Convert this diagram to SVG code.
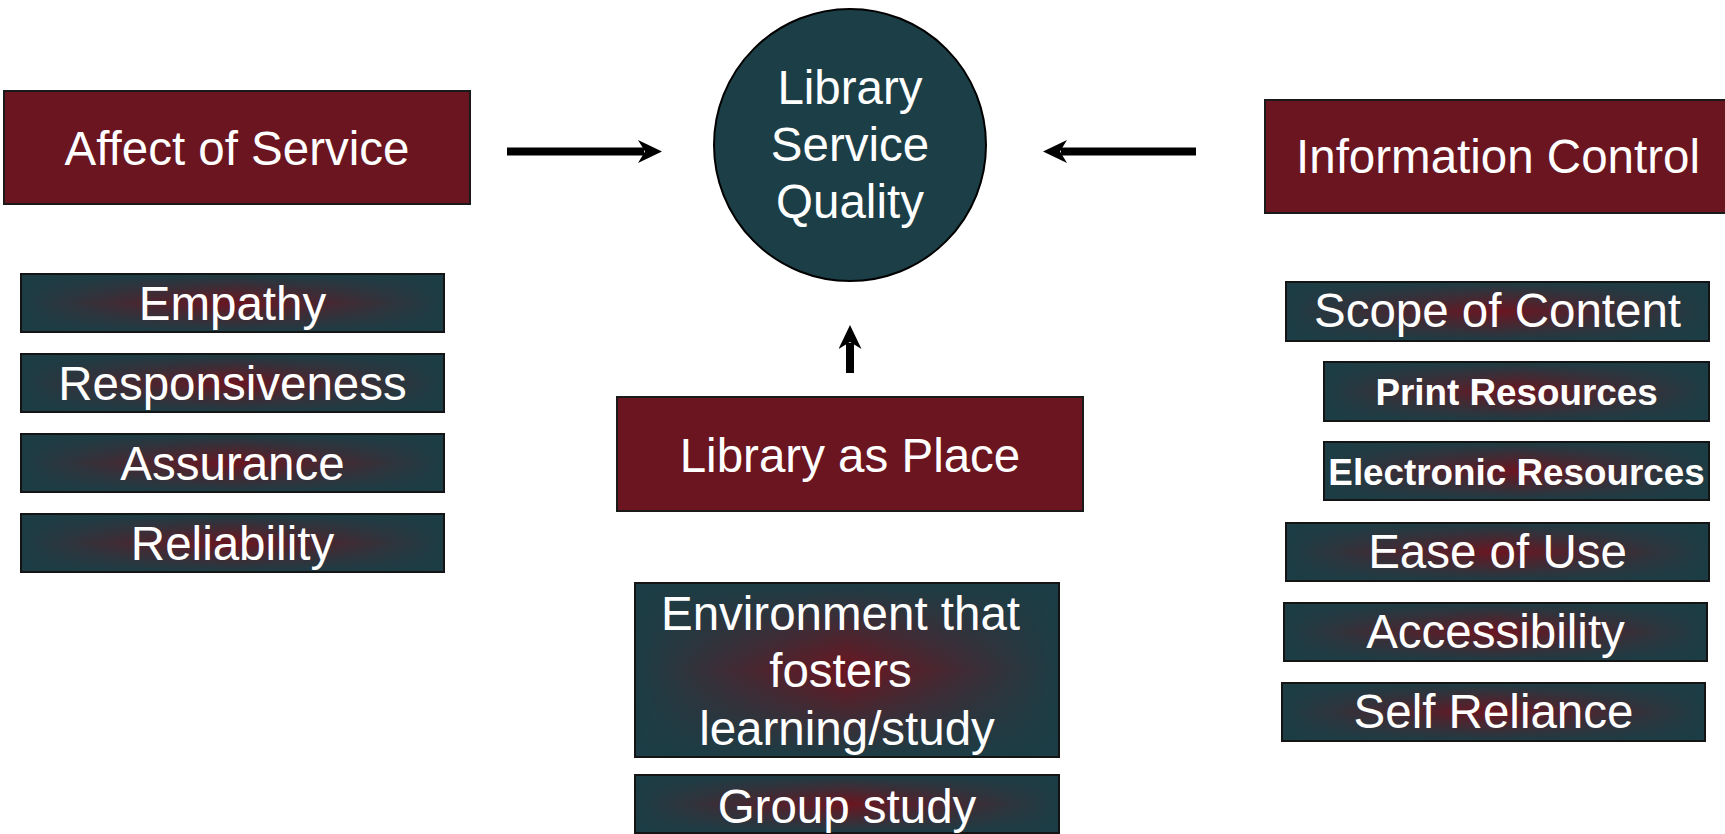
<svg xmlns="http://www.w3.org/2000/svg" width="1725" height="834" viewBox="0 0 1725 834">
  <defs>
    <style>
      .head { fill: #6b1520; stroke: #1a1a1a; stroke-width: 2; }
      .item { fill: url(#hfade); stroke: #141414; stroke-width: 2; }
      .shade { fill: url(#vfade); stroke: none; }
      .frame { fill: none; stroke: #141414; stroke-width: 2; }
      text { font-family: "Liberation Sans", Arial, sans-serif; fill: #ffffff; text-anchor: middle; }
      .big { font-size: 47.5px; }
      .bold { font-size: 36.8px; font-weight: bold; }
      .link { stroke: #000000; stroke-width: 8; fill: none; marker-end: url(#stealth); }
    </style>
    <!-- horizontal blend: teal edges, maroon middle -->
    <linearGradient id="hfade" x1="0" y1="0" x2="1" y2="0">
      <stop offset="0" stop-color="#1c3d45"/>
      <stop offset="0.5" stop-color="#6c1520"/>
      <stop offset="1" stop-color="#1c3d45"/>
    </linearGradient>
    <!-- vertical teal veil that clears towards the middle row -->
    <linearGradient id="vfade" x1="0" y1="0" x2="0" y2="1">
      <stop offset="0" stop-color="#1c3d45" stop-opacity="1"/>
      <stop offset="0.5" stop-color="#1c3d45" stop-opacity="0"/>
      <stop offset="1" stop-color="#1c3d45" stop-opacity="1"/>
    </linearGradient>
    <marker id="stealth" viewBox="0 0 24 23" markerUnits="userSpaceOnUse" markerWidth="24" markerHeight="23" refX="6" refY="11.5" orient="auto">
      <path d="M24,11.5 L0,0 L7,11.5 L0,23 Z" fill="#000000"/>
    </marker>
  </defs>

  <rect width="1725" height="834" fill="#ffffff"/>

  <!-- connectors -->
  <g id="connectors">
    <line class="link" x1="507" y1="151.5" x2="644" y2="151.5"/>
    <line class="link" x1="1196" y1="151.5" x2="1061" y2="151.5"/>
    <line class="link" x1="850" y1="373" x2="850" y2="343"/>
  </g>

  <!-- central node -->
  <g id="library-service-quality">
    <circle cx="850" cy="145" r="136" fill="#1c3e46" stroke="#000000" stroke-width="2"/>
    <text class="big" x="850" y="104">Library</text>
    <text class="big" x="850" y="161">Service</text>
    <text class="big" x="850" y="218">Quality</text>
  </g>

  <!-- dimension headers -->
  <g id="affect-of-service">
    <rect class="head" x="4" y="91" width="466" height="113"/>
    <text class="big" x="237" y="165">Affect of Service</text>
  </g>
  <g id="information-control">
    <rect class="head" x="1265" y="100" width="470" height="113"/>
    <text class="big" x="1498" y="173">Information Control</text>
  </g>
  <g id="library-as-place">
    <rect class="head" x="617" y="397" width="466" height="114"/>
    <text class="big" x="850" y="472">Library as Place</text>
  </g>

  <!-- affect of service items -->
  <g id="empathy">
    <rect class="item" x="21" y="274" width="423" height="58"/>
    <rect class="shade" x="21" y="274" width="423" height="58"/>
    <rect class="frame" x="21" y="274" width="423" height="58"/>
    <text class="big" x="232.5" y="320">Empathy</text>
  </g>
  <g id="responsiveness">
    <rect class="item" x="21" y="354" width="423" height="58"/>
    <rect class="shade" x="21" y="354" width="423" height="58"/>
    <rect class="frame" x="21" y="354" width="423" height="58"/>
    <text class="big" x="232.5" y="400">Responsiveness</text>
  </g>
  <g id="assurance">
    <rect class="item" x="21" y="434" width="423" height="58"/>
    <rect class="shade" x="21" y="434" width="423" height="58"/>
    <rect class="frame" x="21" y="434" width="423" height="58"/>
    <text class="big" x="232.5" y="480">Assurance</text>
  </g>
  <g id="reliability">
    <rect class="item" x="21" y="514" width="423" height="58"/>
    <rect class="shade" x="21" y="514" width="423" height="58"/>
    <rect class="frame" x="21" y="514" width="423" height="58"/>
    <text class="big" x="232.5" y="560">Reliability</text>
  </g>

  <!-- information control items -->
  <g id="scope-of-content">
    <rect class="item" x="1286" y="282" width="423" height="59"/>
    <rect class="shade" x="1286" y="282" width="423" height="59"/>
    <rect class="frame" x="1286" y="282" width="423" height="59"/>
    <text class="big" x="1497.5" y="327">Scope of Content</text>
  </g>
  <g id="print-resources">
    <rect class="item" x="1324" y="362" width="385" height="59"/>
    <rect class="shade" x="1324" y="362" width="385" height="59"/>
    <rect class="frame" x="1324" y="362" width="385" height="59"/>
    <text class="bold" x="1516.5" y="405">Print Resources</text>
  </g>
  <g id="electronic-resources">
    <rect class="item" x="1324" y="442" width="385" height="58"/>
    <rect class="shade" x="1324" y="442" width="385" height="58"/>
    <rect class="frame" x="1324" y="442" width="385" height="58"/>
    <text class="bold" x="1516.5" y="485">Electronic Resources</text>
  </g>
  <g id="ease-of-use">
    <rect class="item" x="1286" y="523" width="423" height="58"/>
    <rect class="shade" x="1286" y="523" width="423" height="58"/>
    <rect class="frame" x="1286" y="523" width="423" height="58"/>
    <text class="big" x="1497.5" y="568">Ease of Use</text>
  </g>
  <g id="accessibility">
    <rect class="item" x="1284" y="603" width="423" height="58"/>
    <rect class="shade" x="1284" y="603" width="423" height="58"/>
    <rect class="frame" x="1284" y="603" width="423" height="58"/>
    <text class="big" x="1495.5" y="648">Accessibility</text>
  </g>
  <g id="self-reliance">
    <rect class="item" x="1282" y="683" width="423" height="58"/>
    <rect class="shade" x="1282" y="683" width="423" height="58"/>
    <rect class="frame" x="1282" y="683" width="423" height="58"/>
    <text class="big" x="1493.5" y="728">Self Reliance</text>
  </g>

  <!-- library as place items -->
  <g id="environment">
    <rect class="item" x="635" y="583" width="424" height="174"/>
    <rect class="shade" x="635" y="583" width="424" height="174"/>
    <rect class="frame" x="635" y="583" width="424" height="174"/>
    <text class="big" x="840.5" y="630">Environment that</text>
    <text class="big" x="840.5" y="687">fosters</text>
    <text class="big" x="847" y="745">learning/study</text>
  </g>
  <g id="group-study">
    <rect class="item" x="635" y="775" width="424" height="58"/>
    <rect class="shade" x="635" y="775" width="424" height="58"/>
    <rect class="frame" x="635" y="775" width="424" height="58"/>
    <text class="big" x="847" y="823">Group study</text>
  </g>
</svg>
